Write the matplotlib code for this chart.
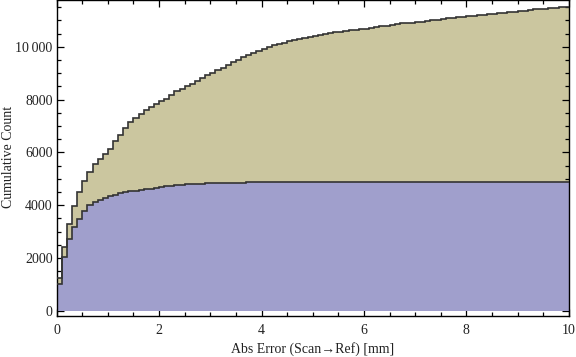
import numpy as np
import matplotlib
matplotlib.use("Agg")
import matplotlib.pyplot as plt
from matplotlib.ticker import MultipleLocator, FixedLocator

plt.rcParams['font.family'] = ['Liberation Serif', 'DejaVu Serif']

bin_edges = np.round(np.arange(0, 10.0001, 0.1), 2)

# Cumulative counts, all scans (upper, tan)
total_counts = [
    1227, 2400, 3295, 3977, 4485, 4924, 5265, 5545, 5735, 5924,
    6136, 6428, 6667, 6909, 7136, 7288, 7451, 7602, 7716, 7830,
    7932, 8030, 8160, 8322, 8386, 8500, 8576, 8689, 8803, 8917,
    9000, 9106, 9205, 9295, 9409, 9508, 9598, 9686, 9761, 9850,
    9913, 9989, 10064, 10114, 10152, 10216, 10265, 10292, 10341, 10379,
    10417, 10455, 10480, 10505, 10545, 10545, 10583, 10621, 10621, 10659,
    10659, 10697, 10746, 10772, 10772, 10822, 10860, 10886, 10886, 10905,
    10924, 10924, 10962, 11000, 11000, 11038, 11076, 11076, 11114, 11114,
    11152, 11152, 11189, 11189, 11227, 11227, 11265, 11265, 11303, 11303,
    11341, 11341, 11379, 11417, 11417, 11417, 11455, 11455, 11492, 11492,
]

# Cumulative counts, subset (lower, blue)
subset_counts = [
    1011, 2023, 2705, 3159, 3485, 3788, 3992, 4106, 4190, 4255,
    4345, 4383, 4447, 4485, 4523, 4523, 4561, 4598, 4598, 4636,
    4674, 4712, 4712, 4750, 4750, 4788, 4788, 4788, 4788, 4826,
    4826, 4826, 4826, 4826, 4826, 4826, 4826, 4864, 4864, 4864,
    4864, 4864, 4864, 4864, 4864, 4864, 4864, 4864, 4864, 4864,
    4864, 4864, 4864, 4864, 4864, 4864, 4864, 4864, 4864, 4864,
    4864, 4864, 4864, 4864, 4864, 4864, 4864, 4864, 4864, 4864,
    4864, 4864, 4864, 4864, 4864, 4864, 4864, 4864, 4864, 4864,
    4864, 4864, 4864, 4864, 4864, 4864, 4864, 4864, 4864, 4864,
    4864, 4864, 4864, 4864, 4864, 4864, 4864, 4864, 4864, 4864,
]

y_ticks = [0, 2000, 4000, 6000, 8000, 10000]
y_tick_labels = ["0", "2000", "4000", "6000", "8000", "10\u2009000"]
x_ticks = [0, 2, 4, 6, 8, 10]
x_tick_labels = ["0", "2", "4", "6", "8", "10"]

tan = "#cbc69f"
blue = "#a09fcc"
edge = "#333333"

W, H = 576, 357
fig = plt.figure(figsize=(W / 100, H / 100), dpi=100)
ax = fig.add_axes([0.0984, 0.1162, 0.889, 0.8838])

ax.stairs(total_counts, bin_edges, fill=True, baseline=0, facecolor=tan,
          edgecolor="none", zorder=1)
ax.stairs(total_counts, bin_edges, baseline=None, color=edge, lw=1.2, zorder=3)
ax.stairs(subset_counts, bin_edges, fill=True, baseline=0, facecolor=blue,
          edgecolor="none", zorder=2)
ax.stairs(subset_counts, bin_edges, baseline=None, color=edge, lw=1.2, zorder=3)

ax.set_xlim(0, 10)
ax.set_ylim(-182, 11770)

ax.xaxis.set_major_locator(FixedLocator(x_ticks))
ax.set_xticklabels(x_tick_labels)
ax.xaxis.set_minor_locator(MultipleLocator(0.5))
ax.yaxis.set_major_locator(FixedLocator(y_ticks))
ax.set_yticklabels(y_tick_labels)
ax.yaxis.set_minor_locator(MultipleLocator(500))

ax.tick_params(which='both', direction='in', top=True, right=True,
               width=0.9, color='black', labelsize=10, labelcolor='#222222')
ax.tick_params(which='major', length=5)
ax.tick_params(axis='y', which='major', pad=3)
ax.tick_params(axis='x', which='major', pad=6)
ax.tick_params(which='minor', length=2.8)
for s in ax.spines.values():
    s.set_linewidth(1.0)
    s.set_color('black')

fig.text((56.7 + 569) / 2 / W, 1 - 349.5 / H, "Abs Error (Scan\u2192Ref) [mm]",
         fontsize=10, color='#222222', ha='center', va='center')
fig.text(9 / W, 1 - 157 / H, "Cumulative Count", rotation=90,
         fontsize=10, color='#222222', ha='center', va='center')

fig.savefig("out.png", dpi=100)
